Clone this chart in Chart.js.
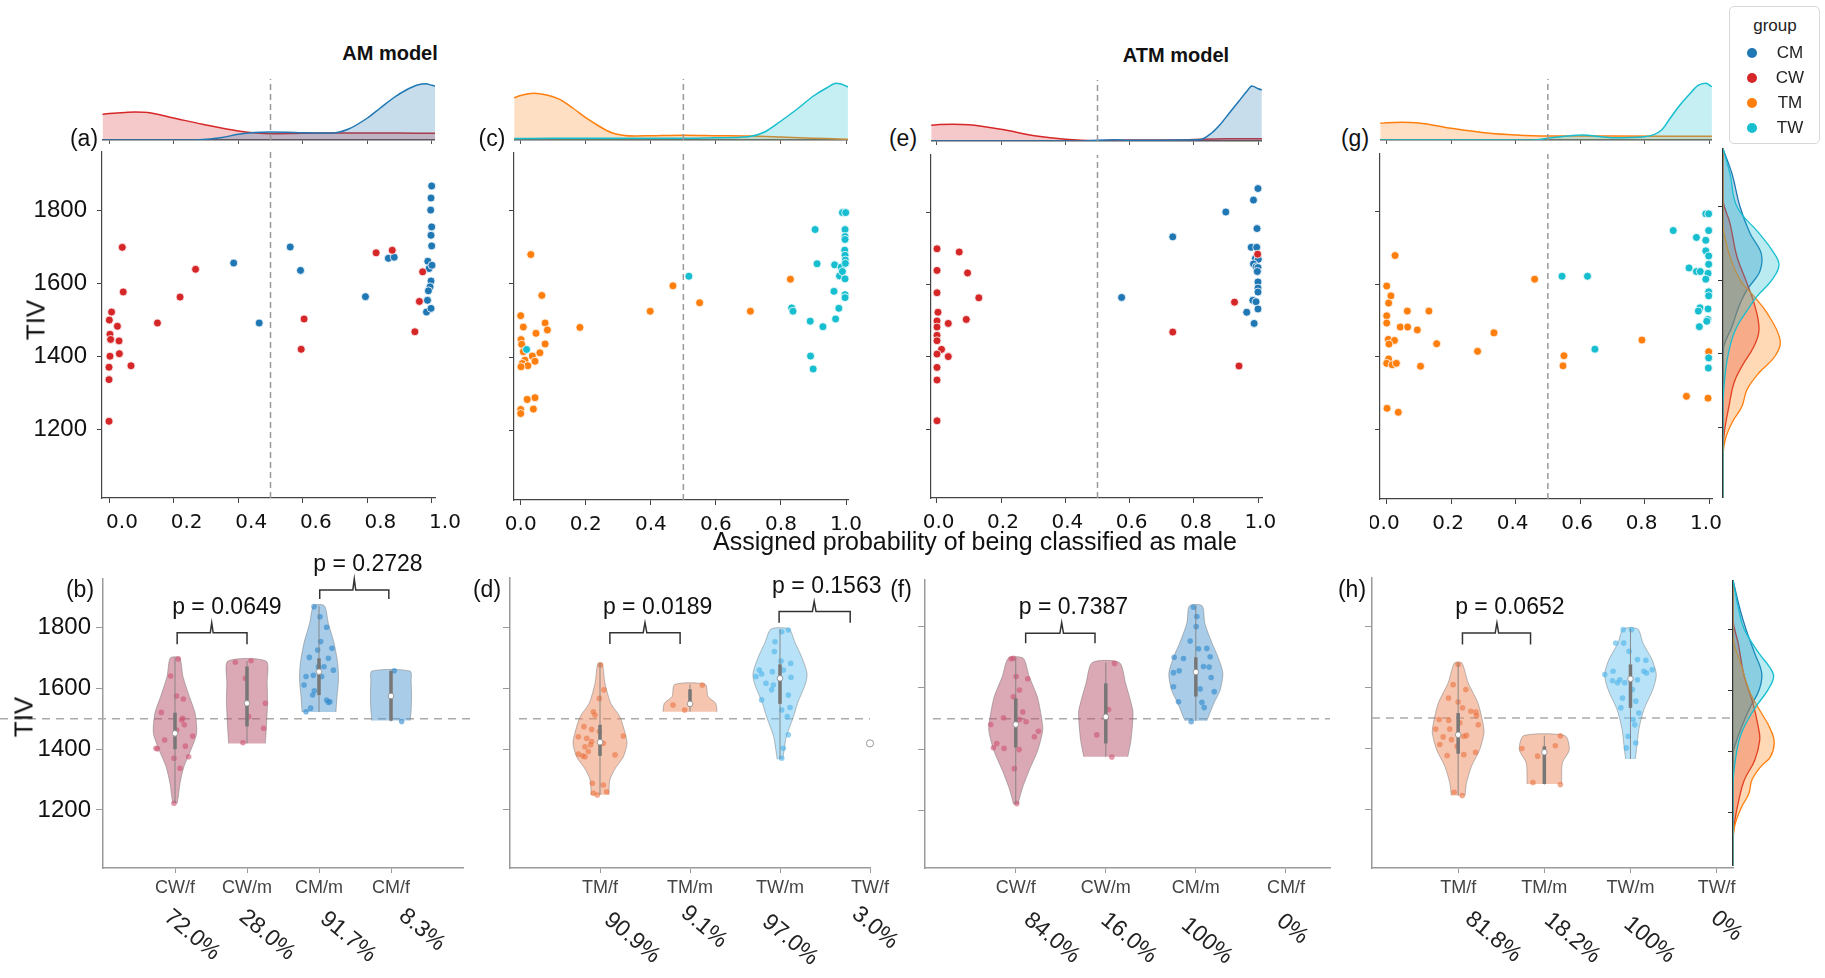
<!DOCTYPE html>
<html><head><meta charset="utf-8">
<script src="https://cdn.jsdelivr.net/npm/chart.js@4.4.1/dist/chart.umd.min.js"></script>
<style>
html,body{margin:0;padding:0;background:#fff;}
#root{position:relative;width:1825px;height:978px;overflow:hidden;font-family:'Liberation Sans',Arial,sans-serif;background:#fff;}
canvas{position:absolute;}
.t{position:absolute;white-space:nowrap;color:#111;line-height:1;}
</style></head><body><div id="root"></div>
<script>
// ===================== DATA =====================
const groupNames = ['CM','CW','TM','TW'];
const xTicks = [0,0.2,0.4,0.6,0.8,1.0];
const tivTicks = [1200,1400,1600,1800];
const threshold = 0.5;
const tivRef = 1500;

// --- scatter (a) AM model, cisgender
const a_CW_p = [0.041,0.044,0.008,0.001,0.026,0.003,0.005,0.031,0.003,0.032,0.0,0.0,0.068,0.0,0.15,0.22,0.268,0.604,0.595,0.827,0.877,0.971,0.961,0.947];
const a_CW_tiv = [1698,1576,1521,1499,1482,1460,1446,1442,1400,1407,1370,1336,1374,1222,1491,1562,1638,1502,1419,1683,1690,1631,1550,1467];
const a_CM_p = [0.386,0.465,0.561,0.593,0.794,0.865,0.883,0.999,0.997,0.996,0.999,0.997,0.999,0.987,0.991,1.0,0.997,0.994,0.989,0.986,0.983,0.997];
const a_CM_tiv = [1655,1491,1699,1635,1563,1668,1671,1866,1833,1800,1754,1731,1702,1660,1640,1649,1606,1590,1579,1553,1521,1531];
// --- scatter (c) AM model, transgender
const c_TM_p = [0.031,0.065,0.0,0.008,0.075,0.082,0.047,0.001,0.003,0.075,0.008,0.059,0.036,0.013,0.044,0.005,0.022,0.001,0.02,0.044,0.0,0.039,0.0,0.182,0.398,0.468,0.55,0.706,0.829];
const c_TM_tiv = [1679,1568,1513,1482,1493,1474,1465,1448,1435,1436,1415,1412,1403,1392,1389,1383,1377,1374,1285,1290,1258,1259,1247,1481,1525,1594,1548,1525,1612];
const c_TW_p = [0.018,0.517,0.833,0.837,0.89,0.929,0.891,0.899,0.905,0.911,0.965,0.963,0.968,0.978,0.98,0.985,0.989,0.989,0.999,0.997,0.997,0.997,0.996,0.997,0.998,0.998,0.997,0.997,0.997];
const c_TW_tiv = [1421,1620,1534,1525,1498,1483,1403,1368,1747,1654,1651,1579,1504,1533,1621,1645,1633,1793,1793,1747,1728,1720,1691,1677,1664,1655,1613,1570,1562];
// --- scatter (e) ATM model, cisgender
const e_CW_p = [0.001,0.07,0.001,0.096,0.001,0.131,0.004,0.001,0.036,0.092,0.001,0.001,0.001,0.015,0.001,0.036,0.001,0.001,0.001,0.734,0.926,0.94,0.998];
const e_CW_tiv = [1700,1691,1640,1633,1578,1564,1524,1500,1493,1504,1483,1460,1445,1421,1408,1401,1371,1336,1223,1469,1552,1375,1685];
const e_CM_p = [0.575,0.734,0.899,0.985,0.999,0.996,0.978,0.995,0.991,1.0,0.985,0.993,0.999,0.997,0.999,0.999,0.999,0.983,0.993,0.964,0.999,0.987];
const e_CM_tiv = [1565,1733,1802,1835,1867,1756,1704,1704,1673,1671,1658,1650,1648,1637,1608,1591,1580,1557,1553,1524,1533,1493];
// --- scatter (g) ATM model, transgender
const g_TM_p = [0.026,0.0,0.013,0.006,0.0,0.064,0.131,0.0,0.042,0.065,0.095,0.005,0.024,0.007,0.155,0.282,0.333,0.006,0.0,0.017,0.03,0.105,0.001,0.036,0.459,0.55,0.547,0.792,0.93,0.997,0.999];
const g_TM_tiv = [1679,1595,1568,1548,1513,1526,1526,1493,1482,1482,1474,1448,1445,1435,1436,1415,1466,1394,1382,1378,1382,1374,1258,1247,1614,1403,1375,1446,1291,1286,1414];
const g_TW_p = [0.544,0.623,0.646,0.889,0.961,0.938,0.961,0.973,0.99,0.999,0.999,0.99,0.99,0.999,0.999,0.997,0.99,0.999,0.999,0.972,0.967,0.997,0.996,0.993,0.97,0.999,0.998];
const g_TW_tiv = [1622,1622,1421,1748,1729,1645,1635,1635,1794,1794,1748,1721,1692,1678,1655,1630,1614,1579,1568,1535,1526,1532,1503,1498,1483,1397,1369];

// --- top marginal densities (probability axis)
const kA_CW_x = [-0.02,0.0,0.05,0.08,0.12,0.2,0.29,0.4,0.5,0.6,0.7,0.8,0.9,1.0,1.01];
const kA_CW_h = [25.7,26.5,27.5,28,27.5,22,15.7,9,6.3,6.8,7,7,7,6.7,6.7];
const kA_CM_x = [-0.02,0.2,0.28,0.35,0.4,0.45,0.5,0.55,0.6,0.69,0.74,0.8,0.84,0.88,0.92,0.955,0.98,1.0,1.01];
const kA_CM_h = [0,0,0.3,2.5,5.7,7.5,8,7.8,7.3,7,10.7,22,32,42,50,55,56.3,54.7,54];
const kC_TM_x = [-0.02,0.0,0.04,0.08,0.12,0.16,0.2,0.24,0.28,0.35,0.4,0.5,0.6,0.7,0.8,0.9,1.0,1.006];
const kC_TM_h = [42.3,44.5,46.7,45,40.7,32,22.3,14,7.3,4,4.2,4.7,4.3,4,3,1.8,0.7,0.6];
const kC_TW_x = [-0.02,0.1,0.3,0.5,0.6,0.7,0.75,0.8,0.85,0.9,0.94,0.97,1.0,1.006];
const kC_TW_h = [1.5,1.7,1.7,1.7,2.3,3.3,8,19,31,44,52,56.7,54,53];
const kE_CW_x = [-0.017,0.0,0.05,0.1,0.2,0.31,0.4,0.49,0.6,0.75,0.9,1.0,1.011];
const kE_CW_h = [15.7,16.3,16.7,16.2,11.7,5,1.7,0.3,1,1,2.3,2.3,2.3];
const kE_CM_x = [-0.017,0.45,0.55,0.6,0.75,0.82,0.855,0.88,0.91,0.94,0.965,0.98,1.0,1.011];
const kE_CM_h = [0,0,1.3,0.7,1,1.5,8,16,28,40,50,55,52.3,51];
const kG_TM_x = [-0.02,0.0,0.046,0.1,0.2,0.32,0.4,0.5,0.7,0.9,1.0,1.009];
const kG_TM_h = [16.7,17.2,17.7,17,11.7,6.7,5,4,3.9,3.8,3.7,3.7];
const kG_TW_x = [-0.02,0.45,0.5,0.56,0.61,0.66,0.7,0.8,0.853,0.88,0.91,0.94,0.965,0.99,1.009];
const kG_TW_h = [0,0,1.7,4,5,3.5,2.3,3.3,10,22,35,46,54.3,56.7,53.3];

// --- right marginal densities (TIV axis), panel (g)
const rG_CM_y = [1958,1890,1800,1728,1682,1655,1619,1574,1529,1474,1420,1380,1010];
const rG_CM_w = [0,9,17,27,37,39,36,24,16,9,0.7,0,0];
const rG_CW_y = [1958,1818,1755,1664,1592,1529,1465,1420,1366,1321,1257,1185,1121,1010];
const rG_CW_w = [0,0,7,14,24,32,36,31,19,11,6,1.3,0,0];
const rG_TM_y = [1958,1760,1728,1664,1601,1556,1511,1438,1393,1348,1302,1257,1212,1167,1121,1010];
const rG_TM_w = [0,0,1,7,17,31,44,57,52,36,24,19,9,2.3,0,0];
const rG_TW_y = [1958,1890,1800,1728,1682,1642,1601,1556,1529,1474,1420,1348,1260,1010];
const rG_TW_w = [0,7,14,36,49,56,49,34,27,14,7,2.3,0,0];
// --- right marginal densities, panel (h)
const rH_CM_y = [1962,1863,1800,1721,1656,1601,1546,1481,1415,1390,1024];
const rH_CM_w = [0,8.3,15,25,33,30,20,10,1.7,0,0];
const rH_CW_y = [1962,1831,1754,1645,1557,1481,1437,1371,1306,1240,1164,1100,1024];
const rH_CW_w = [0,0,6,13,23,29,30.7,25,13,6.7,1.7,0,0];
const rH_TM_y = [1962,1776,1678,1590,1524,1481,1431,1382,1349,1306,1262,1218,1164,1120,1024];
const rH_TM_w = [0,0,10,20,33,41.7,47.3,43,31.7,21.7,18.3,10,2.7,0,0];
const rH_TW_y = [1962,1863,1800,1721,1678,1645,1601,1557,1513,1448,1371,1290,1024];
const rH_TW_w = [0,6.7,13,30,41.7,46.7,40,29,19,8.3,2.7,0,0];

// --- violin panels: categories, groups, percentages, p-values
const b_cats = ['CW/f','CW/m','CM/m','CM/f'];
const d_cats = ['TM/f','TM/m','TW/m','TW/f'];
const f_cats = ['CW/f','CW/m','CM/m','CM/f'];
const h_cats = ['TM/f','TM/m','TW/m','TW/f'];
const b_grp = ['CW','CW','CM','CM'];
const d_grp = ['TM','TM','TW','TW'];
const f_grp = ['CW','CW','CM','CM'];
const h_grp = ['TM','TM','TW','TW'];
const b_pct = ['72.0%','28.0%','91.7%','8.3%'];
const d_pct = ['90.9%','9.1%','97.0%','3.0%'];
const f_pct = ['84.0%','16.0%','100%','0%'];
const h_pct = ['81.8%','18.2%','100%','0%'];
const b_pvals = ['p = 0.0649','p = 0.2728'];
const d_pvals = ['p = 0.0189','p = 0.1563'];
const f_pvals = ['p = 0.7387'];
const h_pvals = ['p = 0.0652'];
// bracket spans [from category, to category, tip category, bar TIV, end TIV, tip TIV]
const b_brackets = [[1.03,2.0,1.51,1783,1745,1816],[3.01,3.97,3.49,1924,1894,1960]];
const d_brackets = [[1.11,1.89,1.5,1783,1746,1816],[2.99,3.78,3.38,1853,1816,1886]];
const f_brackets = [[1.11,1.88,1.51,1778,1746,1813]];
const h_brackets = [[1.05,1.84,1.45,1778,1740,1811]];
// p-value label anchors [category, TIV]
const b_pAt = [[1.72,1865],[3.68,2006]];
const d_pAt = [[1.64,1865],[3.52,1935]];
const f_pAt = [[1.64,1861]];
const h_pAt = [[1.60,1861]];

// box statistics
const b_med = [1452,1551,1655,1575], b_q1 = [1400,1475,1578,1494], b_q3 = [1520,1672,1699,1658], b_lo = [1222,1419,1522,1491], b_hi = [1700,1690,1872,1658];
const d_med = [1423,1549,1633], d_q1 = [1378,1540,1549], d_q3 = [1480,1597,1679], d_lo = [1250,1523,1367], d_hi = [1682,1613,1795];
const f_med = [1481,1506,1652], f_q1 = [1406,1419,1572], f_q3 = [1566,1615,1700], f_lo = [1221,1376,1493], f_hi = [1697,1683,1868];
const h_med = [1445,1388,1628], h_q1 = [1383,1284,1533], h_q3 = [1516,1407,1675], h_lo = [1246,1282,1366], h_hi = [1680,1442,1791];
const d_single = [1419]; // TW/f single observation

// violin outlines: TIV levels and half widths (category units)
const vb1_y=[1222,1244,1288,1343,1397,1452,1518,1573,1640,1700], vb1_w=[0.03,0.046,0.07,0.125,0.22,0.30,0.28,0.20,0.11,0.065];
const vb2_y=[1419,1474,1551,1617,1690], vb2_w=[0.255,0.27,0.285,0.28,0.265];
const vb3_y=[1522,1573,1628,1682,1748,1814,1872], vb3_w=[0.235,0.25,0.27,0.26,0.21,0.13,0.074];
const vb4_y=[1494,1530,1575,1620,1657], vb4_w=[0.265,0.28,0.285,0.28,0.265];
const vd1_y=[1250,1266,1299,1332,1375,1419,1452,1507,1551,1617,1682], vd1_w=[0.1,0.1,0.11,0.16,0.26,0.30,0.28,0.22,0.12,0.055,0.024];
const vd2_y=[1523,1551,1573,1613], vd2_w=[0.30,0.285,0.2,0.17];
const vd3_y=[1367,1397,1441,1507,1551,1617,1650,1704,1748,1795], vd3_w=[0.03,0.046,0.07,0.15,0.195,0.285,0.30,0.24,0.17,0.10];
const vf1_y=[1221,1245,1277,1332,1397,1462,1506,1571,1637,1697], vf1_w=[0.026,0.046,0.078,0.15,0.245,0.30,0.285,0.24,0.15,0.083];
const vf2_y=[1376,1430,1495,1528,1615,1683], vf2_w=[0.245,0.28,0.30,0.30,0.22,0.15];
const vf3_y=[1493,1506,1550,1593,1648,1702,1746,1811,1868], vf3_w=[0.12,0.14,0.2,0.27,0.30,0.245,0.18,0.10,0.07];
const vh1_y=[1246,1287,1342,1396,1451,1484,1549,1615,1680], vh1_w=[0.08,0.097,0.155,0.25,0.30,0.287,0.23,0.116,0.043];
const vh2_y=[1284,1353,1396,1442], vh2_w=[0.2,0.21,0.29,0.24];
const vh3_y=[1366,1396,1462,1527,1593,1642,1691,1745,1791], vh3_w=[0.056,0.07,0.097,0.155,0.26,0.30,0.25,0.145,0.085];

// strip points inside violins: horizontal offset (category units) and TIV
const sb1_o=[0.046,-0.06,0.023,0.116,-0.19,0.106,0.093,0.13,0.023,0.245,-0.144,-0.245,0.144,0.19,-0.014,0.069,-0.014,-0.264];
const sb1_t=[1697,1641,1575,1565,1521,1502,1496,1480,1463,1443,1430,1401,1410,1375,1370,1337,1222,1403];
const sb2_o=[-0.162,0.056,-0.023,0.255,0.023,0.231,-0.056], sb2_t=[1686,1691,1633,1551,1507,1469,1421];
const sb3_o=[-0.069,0.014,0.106,0.023,-0.019,0.18,-0.134,-0.009,0.13,0.069,0.2,-0.18,-0.079,0.037,-0.208,-0.065,-0.088,0.106,0.13,-0.116,-0.18,0.153];
const sb3_t=[1869,1836,1801,1754,1726,1732,1702,1671,1699,1671,1660,1639,1643,1639,1611,1592,1578,1562,1554,1535,1523,1556];
const sb4_o=[0.046,0.148], sb4_t=[1658,1491];
const sd1_o=[0.007,0.044,-0.007,-0.074,-0.056,-0.178,-0.093,-0.241,-0.148,0.259,-0.007,-0.104,-0.167,-0.13,-0.241,-0.193,0.167,-0.085,0.037,0.074,-0.03,-0.074,-0.167,-0.093,0.037];
const sd1_t=[1677,1595,1567,1523,1512,1474,1465,1441,1436,1443,1458,1414,1408,1392,1384,1378,1381,1288,1282,1260,1249,1255,1375,1425,1419];
const sd2_o=[0.137,-0.189,-0.059], sd2_t=[1611,1545,1529];
const sd3_o=[0.093,0.019,-0.056,-0.063,0.011,0.119,-0.23,-0.204,-0.085,0.037,0.122,-0.267,-0.156,-0.093,-0.204,-0.074,0.093,0.111,0.081,0.019,0.093,0.037,0.019];
const sd3_t=[1792,1786,1753,1721,1690,1682,1660,1647,1655,1660,1636,1639,1617,1595,1562,1611,1578,1537,1507,1529,1447,1403,1370];
const sf1_o=[-0.052,-0.026,0.004,0.133,0.041,-0.026,0.078,-0.137,0.041,0.115,-0.278,0.207,0.252,-0.211,-0.248,-0.13,0.037,-0.015,0.011];
const sf1_t=[1695,1697,1637,1630,1593,1571,1522,1503,1497,1490,1481,1441,1459,1419,1405,1403,1399,1337,1223];
const sf2_o=[0.096,0.03,-0.1,0.067], sf2_t=[1680,1530,1447,1375];
const sf3_o=[-0.026,0.011,0.004,-0.063,0.03,0.122,-0.241,-0.137,0.159,-0.185,-0.248,0.085,0.148,0.17,-0.248,0.048,0.204,-0.193,0.067,0.093,-0.052];
const sf3_t=[1863,1833,1800,1753,1728,1729,1700,1696,1702,1656,1650,1670,1668,1634,1604,1597,1588,1555,1553,1536,1490];
const sh1_o=[0,-0.058,0.089,-0.112,0,0.05,0.147,0.205,0.213,-0.221,-0.109,0.019,-0.26,-0.097,0.097,0.066,-0.213,0.233,-0.012,-0.128,0.066,0.202,-0.047,0.047,-0.078,-0.174];
const sh1_t=[1675,1609,1593,1565,1552,1533,1522,1519,1508,1495,1492,1484,1464,1464,1443,1440,1413,1478,1407,1377,1380,1388,1257,1246,1429,1438];
const sh2_o=[0.186,0.128,-0.26,-0.078,-0.132,0.186], sh2_t=[1442,1409,1400,1375,1289,1282];
const sh3_o=[-0.085,0.012,-0.171,-0.078,-0.016,0.081,0.178,0.252,0.155,-0.298,-0.202,-0.124,-0.209,-0.151,-0.066,0.081,0.186,-0.093,0.023,0.062,-0.112,0.097,0.031,0.05,-0.027,0.062,-0.047];
const sh3_t=[1789,1789,1745,1745,1718,1691,1689,1658,1653,1642,1653,1625,1622,1615,1615,1625,1647,1565,1593,1555,1533,1516,1495,1478,1440,1418,1402];

// ===================== LAYOUT / STYLE =====================
const LIB = "'Liberation Sans', Arial, sans-serif";
const DJ = "'DejaVu Sans', sans-serif";
const COL = {CM:'#1f77b4', CW:'#d62728', TM:'#ff7f0e', TW:'#17becf'};
const VC = {
  CW:{fill:'rgba(183,81,107,0.5)', pt:'rgba(205,85,115,0.6)'},
  CM:{fill:'rgba(83,155,211,0.5)', pt:'rgba(45,135,205,0.6)'},
  TM:{fill:'rgba(235,139,97,0.5)', pt:'rgba(235,115,65,0.6)'},
  TW:{fill:'rgba(113,197,241,0.5)', pt:'rgba(75,180,235,0.6)'}
};
const LAY = {
  sA:{l:102,t:152,r:435,b:498}, sC:{l:514,t:153,r:848,b:500}, sE:{l:931,t:155,r:1262,b:498}, sG:{l:1380,t:154,r:1712,b:499},
  kA:{l:102,t:79,r:435,b:140}, kC:{l:514,t:79,r:848,b:140}, kE:{l:931,t:80,r:1262,b:141}, kG:{l:1380,t:79,r:1712,b:140},
  rG:{l:1723,t:148,r:1800,b:498}, rH:{l:1733,t:580,r:1800,b:866},
  vB:{l:103,t:579,r:463,b:868}, vD:{l:510,t:578,r:870,b:868}, vF:{l:925,t:580,r:1330,b:868}, vH:{l:1372,t:578,r:1733,b:868}
};
const XR = { sA:[-0.0217,1.0093], sC:[-0.0206,1.0061], sE:[-0.0177,1.0115], sG:[-0.0208,1.0093] };
const YR = { sA:[1012,1959], sC:[1012,1955], sE:[1009,1960], sG:[1008,1959] };

Chart.defaults.font.family = LIB;
const root = document.getElementById('root');
let plugId = 0;
function rgba(hex,a){const n=parseInt(hex.slice(1),16);return `rgba(${n>>16},${(n>>8)&255},${n&255},${a})`;}
function addText(str,x,y,css,rot){
  const d=document.createElement('div'); d.className='t'; d.textContent=str;
  d.style.cssText += css; d.style.left=x+'px'; d.style.top=y+'px';
  d.style.transform='translate(-50%,-50%)'+(rot?` rotate(${rot}deg)`:'');
  root.appendChild(d); return d;
}
const pts = (xs, ys) => xs.map((v,i)=>({x:v,y:ys[i]}));
function axis(min,max,ticks,o){
  o=o||{}; const show=o.show!==false; const c=o.c||'#444';
  return { type:'linear', min, max, display:true,
    afterBuildTicks:s=>{ s.ticks = ticks.map(v=>({value:v})); },
    grid:{display:show && (o.tl||0)>0, drawOnChartArea:false, drawTicks:true, tickLength:o.tl||0, color:c, tickColor:c, lineWidth:o.tw||1},
    border:{display:show && o.border!==false, color:c, width:o.bw||1.2},
    ticks:{display:!!o.labels, callback:o.labels||(()=>''), font:o.font, color:o.tc||'#111', padding:o.pad||0, labelOffset:o.lo||0, maxRotation:0, minRotation:0, autoSkip:false}
  };
}
function dots(data,color,r,border){
  return {type:'scatter', data, backgroundColor:color, borderColor:border||'rgba(0,0,0,0)', borderWidth:border?0.8:0, pointRadius:r, showLine:false, clip:false};
}
function line(data,color,w,dash,extra){
  return Object.assign({type:'line', data, borderColor:color, borderWidth:w, borderDash:dash||[], pointRadius:0, fill:false, tension:0, clip:false}, extra||{});
}
function zeroPad(s){ s.paddingLeft=0; s.paddingRight=0; s.paddingTop=0; s.paddingBottom=0; }
function makeChart(area,pad,xa,ya,datasets,plugins){
  const W=area.r-area.l+pad.l+pad.r, H=area.b-area.t+pad.t+pad.b;
  const cv=document.createElement('canvas'); cv.width=W; cv.height=H;
  Object.assign(cv.style,{left:(area.l-pad.l)+'px', top:(area.t-pad.t)+'px', width:W+'px', height:H+'px'});
  root.appendChild(cv);
  xa.position='bottom'; ya.position='left';
  xa.afterFit=s=>{s.height=pad.b; zeroPad(s);}; ya.afterFit=s=>{s.width=pad.l; zeroPad(s);};
  return new Chart(cv,{type:'scatter', data:{datasets:datasets.slice().reverse()}, options:{
    responsive:false, animation:false, devicePixelRatio:1, events:[],
    layout:{autoPadding:false, padding:{left:0,right:pad.r,top:pad.t,bottom:0}},
    plugins:{legend:{display:false}, tooltip:{enabled:false}},
    scales:{x:xa,y:ya}}, plugins:plugins||[]});
}
function textPlug(items, canvasTop){
  return {id:'txt'+(plugId++), afterDatasetsDraw(chart){
    const ctx=chart.ctx, sx=chart.scales.x, sy=chart.scales.y;
    for(const it of items){
      const X = sx.getPixelForValue(it.x)+(it.dx||0);
      const Y = it.pageY!==undefined ? it.pageY-canvasTop : sy.getPixelForValue(it.y);
      ctx.save(); ctx.translate(X,Y); if(it.rot) ctx.rotate(it.rot*Math.PI/180);
      ctx.font=it.font; ctx.fillStyle=it.color||'#111'; ctx.textAlign='center'; ctx.textBaseline='middle';
      ctx.fillText(it.t,0,0); ctx.restore();
    }
  }};
}

// ===================== SCATTER PANELS =====================
function scatterPanel(key, lo, showY, series){
  const area=LAY[key], pad={l:showY?102:10, t:6, r:32, b:40};
  const xa=axis(XR[key][0],XR[key][1],xTicks,{tl:5, labels:v=>Number(v).toFixed(1), font:{family:DJ,size:20}, pad:8, lo, c:'#444'});
  const ya=axis(YR[key][0],YR[key][1],tivTicks,{tl:5, labels:showY?(v=>String(v)):null, font:{family:LIB,size:24}, pad:10, c:'#444'});
  const ds=[line([{x:threshold,y:YR[key][0]},{x:threshold,y:YR[key][1]}],'#999',1.5,[6,4])];
  series.forEach(([p,t,g])=>ds.push(dots(pts(p,t),COL[g],4,'#fff')));
  makeChart(area,pad,xa,ya,ds);
}
scatterPanel('sA',13,true,[[a_CM_p,a_CM_tiv,'CM'],[a_CW_p,a_CW_tiv,'CW']]);
scatterPanel('sC',0,false,[[c_TM_p,c_TM_tiv,'TM'],[c_TW_p,c_TW_tiv,'TW']]);
scatterPanel('sE',2,false,[[e_CM_p,e_CM_tiv,'CM'],[e_CW_p,e_CW_tiv,'CW']]);
scatterPanel('sG',-3,false,[[g_TM_p,g_TM_tiv,'TM'],[g_TW_p,g_TW_tiv,'TW']]);

// ===================== TOP DENSITIES =====================
function kdePanel(key,sKey,curves){
  const area=LAY[key];
  const xa=axis(XR[sKey][0],XR[sKey][1],xTicks,{tl:4,c:'#555',bw:1.5});
  const ya=axis(0,61,[],{show:false});
  const ds=[];
  curves.forEach(([x,h,g])=>ds.push(line(pts(x,h),COL[g],1.5,[],{fill:'origin',backgroundColor:rgba(COL[g],0.25),cubicInterpolationMode:'monotone',clip:true})));
  ds.push(line([{x:threshold,y:0},{x:threshold,y:61}],'#999',1.5,[6,4]));
  makeChart(area,{l:0,t:0,r:0,b:6},xa,ya,ds);
}
kdePanel('kA','sA',[[kA_CW_x,kA_CW_h,'CW'],[kA_CM_x,kA_CM_h,'CM']]);
kdePanel('kC','sC',[[kC_TM_x,kC_TM_h,'TM'],[kC_TW_x,kC_TW_h,'TW']]);
kdePanel('kE','sE',[[kE_CW_x,kE_CW_h,'CW'],[kE_CM_x,kE_CM_h,'CM']]);
kdePanel('kG','sG',[[kG_TM_x,kG_TM_h,'TM'],[kG_TW_x,kG_TW_h,'TW']]);

// ===================== RIGHT DENSITIES =====================
function rkdePanel(key,yr,curves){
  const area=LAY[key];
  const xa=axis(0,77,[],{show:false});
  const ya=axis(yr[0],yr[1],tivTicks,{tl:5,c:'#333',bw:1.5});
  const ds=curves.map(([y,w,g])=>line(y.map((v,i)=>({x:w[i],y:v})),COL[g],1.3,[],{fill:'shape',backgroundColor:rgba(COL[g],0.3),tension:0.4,clip:true}));
  makeChart(area,{l:6,t:0,r:0,b:0},xa,ya,ds);
}
rkdePanel('rG',[1007,1960],[[rG_CM_y,rG_CM_w,'CM'],[rG_CW_y,rG_CW_w,'CW'],[rG_TM_y,rG_TM_w,'TM'],[rG_TW_y,rG_TW_w,'TW']]);
rkdePanel('rH',[1024,1962],[[rH_CM_y,rH_CM_w,'CM'],[rH_CW_y,rH_CW_w,'CW'],[rH_TM_y,rH_TM_w,'TM'],[rH_TW_y,rH_TW_w,'TW']]);

// ===================== VIOLIN PANELS =====================
function violinPanel(cfg){
  const area=LAY[cfg.key], pad={l:cfg.padL, t:48, r:cfg.padR, b:978-area.b};
  const canvasTop=area.t-pad.t;
  const xa=axis(cfg.xr[0],cfg.xr[1],[1,2,3,4],{tl:5, labels:(v,i)=>cfg.cats[i], font:{family:LIB,size:18}, tc:'#444', pad:4, c:'#9a9a9a', bw:1.5});
  const ya=axis(cfg.yr[0],cfg.yr[1],tivTicks,{tl:7, labels:cfg.yLabels?(v=>String(v)):null, font:{family:LIB,size:24}, pad:5, c:'#9a9a9a', bw:1.5});
  const ds=[line([{x:cfg.ref[0],y:tivRef},{x:cfg.ref[1],y:tivRef}],'#aaa',1.5,[8,6])];
  cfg.shapes.forEach((s,i)=>{
    const c=i+1, g=VC[cfg.grp[i]];
    const right=s[0].map((y,k)=>({x:c+s[1][k],y}));
    const left=s[0].map((y,k)=>({x:c-s[1][k],y})).reverse();
    ds.push(line(right.concat(left),'rgba(110,110,110,0.45)',1,[],{fill:'shape',backgroundColor:g.fill,tension:0.25,clip:true}));
  });
  cfg.strips.forEach((s,i)=>{ const c=i+1; ds.push(dots(s[0].map((o,k)=>({x:c+o,y:s[1][k]})),VC[cfg.grp[i]].pt,2.8,null)); });
  cfg.med.forEach((m,i)=>{
    const c=i+1;
    ds.push(line([{x:c,y:cfg.lo[i]},{x:c,y:cfg.hi[i]}],'rgba(125,125,125,0.85)',1));
    ds.push(line([{x:c,y:cfg.q1[i]},{x:c,y:cfg.q3[i]}],'#777',3.5));
    ds.push(dots([{x:c,y:m}],'#fff',2.8,'#888'));
  });
  if(cfg.single) ds.push(Object.assign(dots(cfg.single.map(v=>({x:4,y:v})),'rgba(0,0,0,0)',3.6,'#999'),{borderWidth:1}));
  cfg.brackets.forEach(([x1,x2,xm,yb,ye,yt])=>{
    ds.push(line([{x:x1,y:ye},{x:x1,y:yb},{x:xm-0.02,y:yb},{x:xm,y:yt},{x:xm+0.02,y:yb},{x:x2,y:yb},{x:x2,y:ye}],'#333',1.5));
  });
  const items=[];
  cfg.pvals.forEach((t,i)=>items.push({t, x:cfg.pAt[i][0], y:cfg.pAt[i][1], font:`23px ${LIB}`, color:'#111'}));
  cfg.pct.forEach((t,i)=>items.push({t, x:i+1, dx:cfg.pctDx[i], pageY:cfg.pctY[i], rot:40, font:`23px ${LIB}`, color:'#222'}));
  makeChart(area,pad,xa,ya,ds,[textPlug(items,canvasTop)]);
}
violinPanel({key:'vB', padL:103, padR:10, xr:[0,5], yr:[1009,1960], yLabels:true, ref:[-1.43,5.1], cats:b_cats, grp:b_grp,
  shapes:[[vb1_y,vb1_w],[vb2_y,vb2_w],[vb3_y,vb3_w],[vb4_y,vb4_w]],
  strips:[[sb1_o,sb1_t],[sb2_o,sb2_t],[sb3_o,sb3_t],[sb4_o,sb4_t]],
  med:b_med, q1:b_q1, q3:b_q3, lo:b_lo, hi:b_hi, brackets:b_brackets, pvals:b_pvals, pAt:b_pAt,
  pct:b_pct, pctDx:[17,20,29,31], pctY:[935,935,937,930]});
violinPanel({key:'vD', padL:20, padR:40, xr:[0,4], yr:[1009,1963], yLabels:false, ref:[0.1,4.0], cats:d_cats, grp:d_grp,
  shapes:[[vd1_y,vd1_w],[vd2_y,vd2_w],[vd3_y,vd3_w]],
  strips:[[sd1_o,sd1_t],[sd2_o,sd2_t],[sd3_o,sd3_t]], single:d_single,
  med:d_med, q1:d_q1, q3:d_q3, lo:d_lo, hi:d_hi, brackets:d_brackets, pvals:d_pvals, pAt:d_pAt,
  pct:d_pct, pctDx:[32,14,10,5], pctY:[938,927,940,928]});
violinPanel({key:'vF', padL:20, padR:20, xr:[-0.008,4.49], yr:[1013,1952], yLabels:false, ref:[0.08,4.49], cats:f_cats, grp:f_grp,
  shapes:[[vf1_y,vf1_w],[vf2_y,vf2_w],[vf3_y,vf3_w]],
  strips:[[sf1_o,sf1_t],[sf2_o,sf2_t],[sf3_o,sf3_t]],
  med:f_med, q1:f_q1, q3:f_q3, lo:f_lo, hi:f_hi, brackets:f_brackets, pvals:f_pvals, pAt:f_pAt,
  pct:f_pct, pctDx:[36,23,11,6.5], pctY:[938,938,941,929]});
violinPanel({key:'vH', padL:20, padR:30, xr:[0,4.19], yr:[1009,1958], yLabels:false, ref:[0.0,4.19], cats:h_cats, grp:h_grp,
  shapes:[[vh1_y,vh1_w],[vh2_y,vh2_w],[vh3_y,vh3_w]],
  strips:[[sh1_o,sh1_t],[sh2_o,sh2_t],[sh3_o,sh3_t]],
  med:h_med, q1:h_q1, q3:h_q3, lo:h_lo, hi:h_hi, brackets:h_brackets, pvals:h_pvals, pAt:h_pAt,
  pct:h_pct, pctDx:[35,28,19,10], pctY:[937,938,940,926]});

// ===================== TEXT & LEGEND =====================
addText('AM model',390,53,`font:bold 20px ${LIB};`);
addText('ATM model',1176,55,`font:bold 20px ${LIB};`);
[['(a)',84,138],['(c)',492,138],['(e)',903,138],['(g)',1355,138],['(b)',80,589],['(d)',487,589],['(f)',901,589],['(h)',1352,589]]
  .forEach(([t,x,y])=>addText(t,x,y,`font:23px ${LIB};`));
addText('TIV',36,320,`font:26px ${LIB};`,-90);
addText('TIV',24,717,`font:26px ${LIB};`,-90);
addText('Assigned probability of being classified as male',975,541,`font:25px ${LIB};`);
const lg=document.createElement('div');
lg.style.cssText='position:absolute;left:1729px;top:6px;width:91px;height:138px;border:1px solid #d8d8d8;border-radius:5px;box-sizing:border-box;background:#fff;';
root.appendChild(lg);
const NAR="'Liberation Sans Narrow','Liberation Sans',Arial,sans-serif";
addText('group',1775,26,`font:17px ${NAR};color:#222;`);
groupNames.forEach((g,i)=>{
  const y=53+25*i;
  const d=document.createElement('div');
  d.style.cssText=`position:absolute;left:${1752-5}px;top:${y-5}px;width:10px;height:10px;border-radius:50%;background:${COL[g]};`;
  root.appendChild(d);
  addText(g,1790,y,`font:17px ${NAR};color:#222;`);
});
</script></body></html>
